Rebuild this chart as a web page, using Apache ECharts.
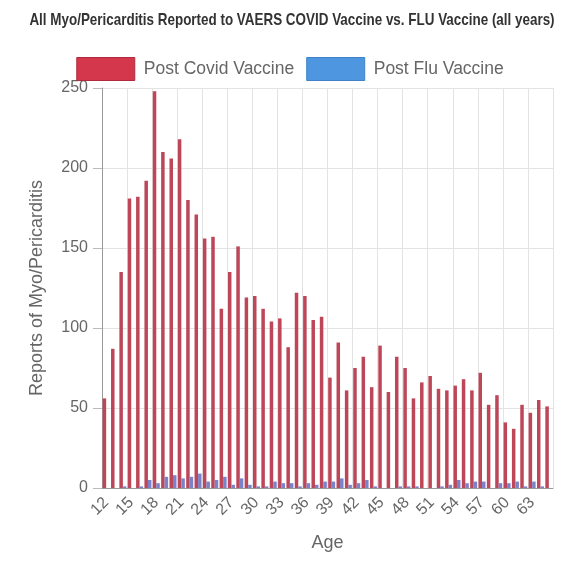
<!DOCTYPE html>
<html>
<head>
<meta charset="utf-8">
<script src="https://cdn.jsdelivr.net/npm/echarts@6/dist/echarts.min.js"></script>
<style>html,body{margin:0;padding:0;background:#fff;}#c{width:580px;height:568px;}</style>
</head>
<body>
<div id="c"></div>
<script>
const ages = [];
for (let a = 12; a <= 65; a++) ages.push(String(a));
const covid = [56,87,135,181,182,192,248,210,206,218,180,171,156,157,112,135,151,119,120,112,104,106,88,122,120,105,107,69,91,61,75,82,63,89,60,82,75,56,66,70,62,61,64,68,61,72,52,58,41,37,52,47,55,51];
const flu = [0,0,1,0,1,5,3,7,8,6,7,9,4,5,7,2,6,2,1,1,4,3,3,1,3,2,4,4,6,2,3,5,1,0,0,1,1,1,0,0,1,2,5,3,4,4,0,3,3,4,1,4,1,0];
const yTicks = [0,50,100,150,200,250];
const titleText = 'All Myo/Pericarditis Reported to VAERS COVID Vaccine vs. FLU Vaccine (all years)';

const FONT = 'Liberation Sans, Arial, Helvetica, sans-serif';
const chart = echarts.init(document.getElementById('c'), null, {renderer:'canvas'});
chart.setOption({
  animation:false,
  backgroundColor:'#fff',
  graphic:[{
    type:'text', x:292, y:20, scaleX:0.79, scaleY:1,
    style:{text:titleText, textAlign:'center', textVerticalAlign:'middle',
      font:'bold 17px ' + FONT, fill:'#333'}
  }],
  legend:{
    top:52, left:'center', itemWidth:58, itemHeight:23, itemGap:12,
    textStyle:{fontFamily:FONT, fontSize:17.5, color:'#666', padding:[0,0,0,4]},
    data:[
      {name:'Post Covid Vaccine', icon:'rect', itemStyle:{color:'#d4364c', borderColor:'#b02a3d', borderWidth:1}},
      {name:'Post Flu Vaccine', icon:'rect', itemStyle:{color:'#4f96e0', borderColor:'#3f82c8', borderWidth:1}}
    ]
  },
  grid:{left:102, right:27, top:88, bottom:80},
  xAxis:{
    type:'category', data:ages,
    name:'Age', nameLocation:'middle', nameGap:46,
    nameTextStyle:{fontFamily:FONT, fontSize:18, color:'#666'},
    axisLine:{lineStyle:{color:'#999'}},
    axisTick:{interval:2, length:8, lineStyle:{color:'#bbb'}},
    axisLabel:{interval:2, rotate:45, fontFamily:FONT, fontSize:16, color:'#666', margin:12},
    splitLine:{show:true, interval:2, lineStyle:{color:'#e3e3e3'}}
  },
  yAxis:{
    type:'value', min:0, max:250, interval:50,
    name:'Reports of Myo/Pericarditis', nameLocation:'middle', nameGap:56,
    nameTextStyle:{fontFamily:FONT, fontSize:18, color:'#666'},
    axisLine:{show:true, lineStyle:{color:'#999'}},
    axisTick:{show:true, length:9, lineStyle:{color:'#bbb'}},
    axisLabel:{fontFamily:FONT, fontSize:16, color:'#666', margin:14,
      formatter:function(v){return yTicks.indexOf(v)>=0?String(v):'';}},
    splitLine:{lineStyle:{color:'#e3e3e3'}}
  },
  series:[
    {name:'Post Covid Vaccine', type:'bar', data:covid, barWidth:3.5, barGap:'0%',
      itemStyle:{color:'#bd4658'}},
    {name:'Post Flu Vaccine', type:'bar', data:flu, barWidth:3.5,
      itemStyle:{color:'#7a82c8'}}
  ]
});
</script>
</body>
</html>
